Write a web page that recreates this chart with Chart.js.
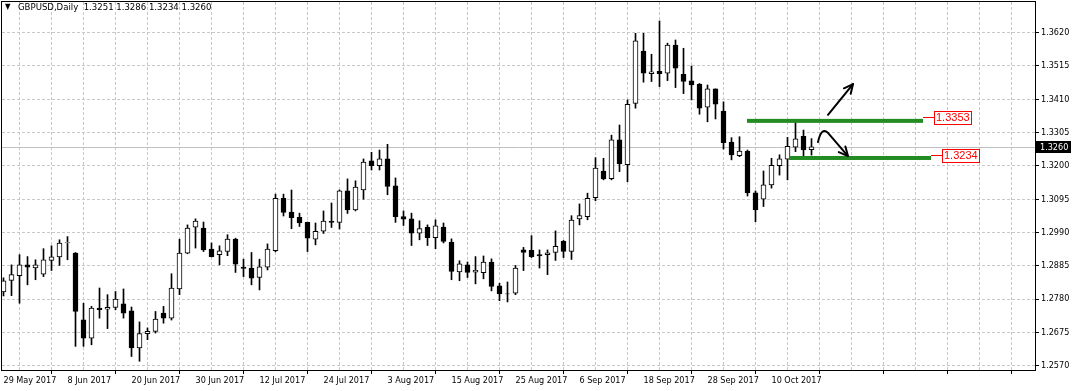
<!DOCTYPE html>
<html><head><meta charset="utf-8">
<script src="https://cdn.jsdelivr.net/npm/chart.js@4/dist/chart.umd.min.js"></script>
<style>html,body{margin:0;padding:0;background:#fff}</style>
</head><body>
<canvas id="c" width="1075" height="391"></canvas>
<script>
// GBPUSD daily candles, 29 May 2017 .. 17 Oct 2017
const dateLabels=['29 May 2017','8 Jun 2017','20 Jun 2017','30 Jun 2017','12 Jul 2017','24 Jul 2017','3 Aug 2017','15 Aug 2017','25 Aug 2017','6 Sep 2017','18 Sep 2017','28 Sep 2017','10 Oct 2017'];
const open =[1.2803,1.2839,1.2854,1.2888,1.2878,1.2859,1.2902,1.2913,1.2957,1.2925,1.2715,1.2657,1.2752,1.2748,1.2754,1.2765,1.2743,1.2626,1.2671,1.2678,1.2736,1.2720,1.2812,1.2925,1.3007,1.3004,1.2938,1.2920,1.2930,1.2969,1.2881,1.2878,1.2848,1.2881,1.2933,1.3098,1.3054,1.3038,1.3022,1.2969,1.2994,1.3026,1.3022,1.3121,1.3061,1.3124,1.3216,1.3201,1.3222,1.3137,1.3040,1.3033,1.2988,1.3006,1.2974,1.3007,1.2960,1.2866,1.2888,1.2865,1.2863,1.2897,1.2822,1.2797,1.2799,1.2935,1.2934,1.2920,1.2920,1.2927,1.2962,1.2930,1.3033,1.3040,1.3100,1.3184,1.3160,1.3282,1.3204,1.3397,1.3562,1.3491,1.3498,1.3492,1.3581,1.3489,1.3468,1.3457,1.3385,1.3443,1.3373,1.3275,1.3232,1.3247,1.3115,1.3095,1.3140,1.3201,1.3221,1.3259,1.3293,1.3251];
const high =[1.2847,1.2888,1.2920,1.2914,1.2904,1.2939,1.2948,1.2967,1.2977,1.2927,1.2767,1.2757,1.2815,1.2794,1.2804,1.2812,1.2755,1.2708,1.2689,1.2741,1.2757,1.2860,1.2969,1.3014,1.3033,1.3023,1.2957,1.2948,1.2983,1.2972,1.2906,1.2927,1.2906,1.2954,1.3111,1.3111,1.3124,1.3051,1.3023,1.3020,1.3058,1.3083,1.3124,1.3159,1.3153,1.3222,1.3243,1.3250,1.3268,1.3162,1.3058,1.3051,1.3027,1.3014,1.3030,1.3020,1.2970,1.2901,1.2897,1.2914,1.2916,1.2907,1.2830,1.2834,1.2886,1.2943,1.2980,1.2935,1.2935,1.2995,1.2965,1.3043,1.3080,1.3114,1.3226,1.3224,1.3297,1.3329,1.3408,1.3618,1.3618,1.3552,1.3657,1.3587,1.3597,1.3571,1.3515,1.3460,1.3455,1.3443,1.3402,1.3289,1.3292,1.3250,1.3121,1.3184,1.3224,1.3235,1.3290,1.3337,1.3313,1.3286];
const low  =[1.2790,1.2791,1.2767,1.2825,1.2841,1.2851,1.2870,1.2886,1.2904,1.2631,1.2631,1.2636,1.2720,1.2687,1.2746,1.2720,1.2599,1.2584,1.2652,1.2673,1.2704,1.2714,1.2794,1.2923,1.2941,1.2930,1.2913,1.2888,1.2917,1.2864,1.2851,1.2825,1.2809,1.2872,1.2929,1.3042,1.3002,1.3009,1.2930,1.2951,1.2987,1.3006,1.3001,1.3050,1.3058,1.3095,1.3187,1.3187,1.3109,1.3022,1.3012,1.2949,1.2967,1.2949,1.2939,1.2957,1.2841,1.2838,1.2848,1.2828,1.2844,1.2806,1.2775,1.2771,1.2794,1.2870,1.2911,1.2878,1.2857,1.2902,1.2911,1.2905,1.3014,1.3030,1.3090,1.3156,1.3156,1.3182,1.3150,1.3382,1.3464,1.3466,1.3450,1.3469,1.3447,1.3428,1.3408,1.3363,1.3339,1.3348,1.3253,1.3219,1.3229,1.3105,1.3024,1.3072,1.3130,1.3171,1.3156,1.3245,1.3222,1.3234];
const close=[1.2838,1.2857,1.2888,1.2881,1.2888,1.2904,1.2913,1.2957,1.2958,1.2741,1.2657,1.2752,1.2747,1.2754,1.2780,1.2736,1.2626,1.2671,1.2678,1.2717,1.2720,1.2815,1.2925,1.3004,1.3026,1.2935,1.2914,1.2932,1.2969,1.2890,1.2877,1.2846,1.2882,1.2938,1.3098,1.3053,1.3037,1.3020,1.2972,1.2994,1.3026,1.3022,1.3121,1.3061,1.3133,1.3212,1.3201,1.3222,1.3135,1.3040,1.3032,1.2988,1.3002,1.2974,1.3011,1.2962,1.2867,1.2891,1.2864,1.2871,1.2897,1.2820,1.2796,1.2796,1.2878,1.2927,1.2914,1.2916,1.2926,1.2946,1.2930,1.3029,1.3043,1.3098,1.3193,1.3159,1.3282,1.3207,1.3394,1.3594,1.3492,1.3497,1.3491,1.3581,1.3508,1.3466,1.3455,1.3382,1.3443,1.3395,1.3273,1.3235,1.3247,1.3115,1.3061,1.3140,1.3202,1.3222,1.3262,1.3285,1.3250,1.3260];
const priceTicks=[1.2570,1.2675,1.2780,1.2885,1.2990,1.3095,1.3200,1.3305,1.3410,1.3515,1.3620];
const symbol='GBPUSD,Daily';
const bid=1.3260;

// drawn objects: green levels with price labels, two arrows
const levels=[
  {from:92.94,to:114.94,price:1.3342,label:'1.3353',labelPrice:1.3353},
  {from:98.19,to:115.94,price:1.3225,label:'1.3234',labelPrice:1.3234}
];
const upArrow=[[103.06,1.3361],[106.19,1.3458]];
const bounceArrow=[[101.81,1.3275],[102.25,1.3325],[103.06,1.3304],[105.56,1.3231]];

const FONT='"DejaVu Sans Condensed","Liberation Sans",sans-serif';
const N=close.length;
const bodies=close.map((c,i)=>({x:i,y:[open[i],c]}));
const wicks=close.map((c,i)=>({x:i,y:[low[i],high[i]]}));
const bull=close.map((c,i)=>c>=open[i]);

function arrowHead(ctx,fx,fy,tx,ty){
  const a=Math.atan2(ty-fy,tx-fx), L=10, s=0.45;
  ctx.beginPath();
  ctx.moveTo(tx-L*Math.cos(a-s),ty-L*Math.sin(a-s));
  ctx.lineTo(tx,ty);
  ctx.lineTo(tx-L*Math.cos(a+s),ty-L*Math.sin(a+s));
  ctx.stroke();
}

const overlay={
  id:'overlay',
  beforeDatasetsDraw(chart){
    const {ctx,chartArea:a,scales:{y}}=chart;
    const yy=Math.round(y.getPixelForValue(bid))+0.5;
    ctx.save();ctx.strokeStyle='#c0c0c0';ctx.lineWidth=1;
    ctx.beginPath();ctx.moveTo(a.left,yy);ctx.lineTo(a.right,yy);ctx.stroke();ctx.restore();
  },
  afterDraw(chart){
    const {ctx,chartArea:a,scales:{x,y}}=chart;
    const P=p=>[x.getPixelForValue(p[0]),y.getPixelForValue(p[1])];
    ctx.save();
    // frame
    ctx.strokeStyle='#000';ctx.lineWidth=1;
    ctx.strokeRect(a.left-0.5,a.top-0.5,a.right-a.left+1,a.bottom-a.top+1);
    // header
    ctx.fillStyle='#000';ctx.textBaseline='middle';ctx.textAlign='left';
    ctx.font='8px '+FONT;ctx.fillText('▼',5,7);
    ctx.font='9.5px '+FONT;
    ctx.fillText(symbol+'  '+[open,high,low,close].map(s=>s[N-1].toFixed(4)).join(' '),18,8);
    // bid label on the price axis
    const by=Math.round(y.getPixelForValue(bid));
    ctx.font='9px '+FONT;
    ctx.fillStyle='#000';ctx.fillRect(a.right+1,by-6,35,12);
    ctx.fillStyle='#fff';ctx.fillText(bid.toFixed(4),a.right+5,by+0.5);
    // green levels
    levels.forEach(l=>{
      const x1=x.getPixelForValue(l.from), x2=x.getPixelForValue(l.to), yy=y.getPixelForValue(l.price);
      ctx.fillStyle='#228b22';ctx.fillRect(x1,yy-2,x2-x1,4);
      const ly=Math.round(y.getPixelForValue(l.labelPrice));
      ctx.font='11px "Liberation Sans",sans-serif';
      const w=Math.ceil(ctx.measureText(l.label).width)+4;
      const bx=Math.round(x2)+11;
      ctx.strokeStyle='#ff0000';ctx.lineWidth=1;
      ctx.beginPath();ctx.moveTo(x2,ly+0.5);ctx.lineTo(bx,ly+0.5);ctx.stroke();
      ctx.fillStyle='#fff';ctx.fillRect(bx,ly-6,w,13);
      ctx.strokeRect(bx+0.5,ly-5.5,w-1,13);
      ctx.fillStyle='#ff0000';ctx.fillText(l.label,bx+2,ly+1);
    });
    // arrows
    ctx.strokeStyle='#000';ctx.lineWidth=2;ctx.lineCap='round';ctx.lineJoin='round';
    let [p0,p1]=upArrow.map(P);
    ctx.beginPath();ctx.moveTo(...p0);ctx.lineTo(...p1);ctx.stroke();
    arrowHead(ctx,p0[0],p0[1],p1[0],p1[1]);
    const q=bounceArrow.map(P);
    ctx.beginPath();ctx.moveTo(...q[0]);ctx.quadraticCurveTo(q[1][0],q[1][1],q[2][0],q[2][1]);ctx.lineTo(...q[3]);ctx.stroke();
    arrowHead(ctx,q[2][0],q[2][1],q[3][0],q[3][1]);
    ctx.restore();
  }
};

const tickFont={family:FONT,size:9};
new Chart(document.getElementById('c'),{
  type:'bar',
  data:{datasets:[
    {data:bodies,backgroundColor:bull.map(b=>b?'#fff':'#000'),borderColor:'#000',borderWidth:1,borderSkipped:false,barThickness:5,grouped:false},
    {data:wicks,backgroundColor:'#000',barThickness:1,grouped:false}
  ]},
  options:{
    responsive:false,animation:false,devicePixelRatio:1,
    layout:{padding:{left:2,top:2,right:0,bottom:0}},
    plugins:{legend:{display:false},tooltip:{enabled:false}},
    scales:{
      x:{type:'linear',min:-0.1875,max:128.9375,offset:false,
        afterBuildTicks:s=>{const t=[];for(let v=0;v<=128;v+=4)t.push({value:v});s.ticks=t;},
        afterFit:s=>{s.height=21;s.paddingLeft=0;s.paddingRight=0;},
        ticks:{autoSkip:false,maxRotation:0,minRotation:0,align:'start',padding:1,color:'#000',font:tickFont,
          callback:v=>(v%8===0&&dateLabels[v/8])?dateLabels[v/8]:''},
        grid:{color:'#c8c8c8',tickLength:4,tickBorderDash:[],
          tickColor:c=>(c.tick&&c.tick.value%8===0)?'#000':'rgba(0,0,0,0)'},
        border:{display:false,dash:[3,2]}},
      y:{position:'right',min:1.255644,max:1.371680,
        afterBuildTicks:s=>{s.ticks=priceTicks.map(v=>({value:v}));},
        afterFit:s=>{s.width=40;s.paddingTop=0;s.paddingBottom=0;},
        ticks:{padding:2,color:'#000',font:tickFont,callback:v=>v.toFixed(4)},
        grid:{color:'#c8c8c8',tickLength:4,tickColor:'#000',tickBorderDash:[]},
        border:{display:false,dash:[3,2]}}
    }
  },
  plugins:[overlay]
});
</script>
</body></html>
